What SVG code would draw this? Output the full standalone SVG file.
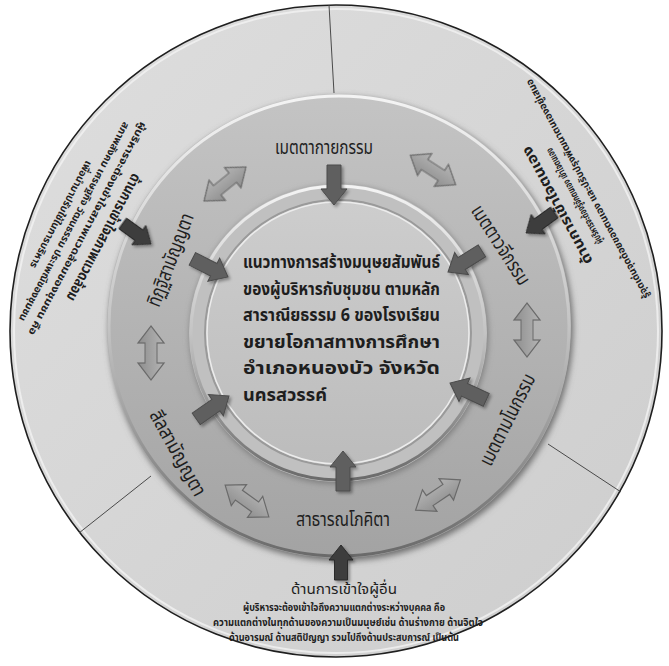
<svg xmlns="http://www.w3.org/2000/svg" width="669" height="666" viewBox="0 0 669 666">
<style>
text{font-family:"Noto Sans Thai","Noto Sans Thai UI","Tahoma","Loma","Garuda","Noto Sans",sans-serif;fill:#1e1e1e}
.lbl{font-size:20px;text-anchor:middle}
.ctr{font-size:18px;font-weight:bold}
.hd{font-size:14.5px;text-anchor:middle}
.ds{font-size:10px;font-weight:bold;text-anchor:middle}
.div{stroke:#4a4a4a;stroke-width:1;fill:none}
.ia{fill:#5f5f5f;stroke:#4b4b4b;stroke-width:1}
.oa{fill:#3c3c3c;stroke:#2a2a2a;stroke-width:1}
.da{fill:url(#gDa);stroke:#6a6a6a;stroke-width:1.2}
</style>
<defs>
<linearGradient id="gOuter" x1="0" y1="0" x2="1" y2="1"><stop offset="0" stop-color="#dedede"/><stop offset="1" stop-color="#cdcdcd"/></linearGradient>
<linearGradient id="gMid" x1="0" y1="0" x2="0" y2="1"><stop offset="0" stop-color="#c4c4c4"/><stop offset="1" stop-color="#a3a3a3"/></linearGradient>
<linearGradient id="gRim" x1="0" y1="0" x2="0" y2="1"><stop offset="0" stop-color="#f4f4f4"/><stop offset="0.5" stop-color="#c4c4c4"/><stop offset="1" stop-color="#6a6a6a"/></linearGradient>
<linearGradient id="gIn" x1="0" y1="0" x2="0" y2="1"><stop offset="0" stop-color="#cdcdcd"/><stop offset="1" stop-color="#bcbcbc"/></linearGradient>
<linearGradient id="gDa" x1="0" y1="0" x2="0" y2="1"><stop offset="0" stop-color="#b4b4b4"/><stop offset="1" stop-color="#8e8e8e"/></linearGradient>
<filter id="sh" x="-30%" y="-30%" width="160%" height="160%"><feDropShadow dx="2" dy="2" stdDeviation="1.6" flood-color="#000" flood-opacity="0.35"/></filter>
<filter id="blur" x="-10%" y="-10%" width="120%" height="120%"><feGaussianBlur stdDeviation="3"/></filter>
<path id="ia" d="M0,0 L-16,-13 L-16,-7 L-40,-7 L-40,7 L-16,7 L-16,13 Z"/>
<path id="oa" d="M0,0 L-15,-12 L-15,-6.5 L-35,-6.5 L-35,6.5 L-15,6.5 L-15,12 Z"/>
<path id="da" d="M-27,0 L-10,-13 L-10,-6 L10,-6 L10,-13 L27,0 L10,13 L10,6 L-10,6 L-10,13 Z"/>
</defs>
<rect width="669" height="666" fill="#fff"/>

<g id="outer-disc">
<circle cx="336" cy="331" r="326" fill="url(#gOuter)" stroke="#1f1f1f" stroke-width="1.6"/>
<circle cx="336" cy="331" r="322" fill="none" stroke="#f2f2f2" stroke-width="2" opacity="0.8"/>
</g>

<g id="connectors-dividers">
<line class="div" x1="329" y1="5" x2="334" y2="93"/>
<line class="div" x1="548" y1="444" x2="621" y2="492"/>
<line class="div" x1="151" y1="476" x2="79" y2="533"/>
</g>

<g id="middle-ring">
<circle cx="341" cy="329" r="232" fill="#6d6d6d" filter="url(#blur)"/>
<circle cx="339" cy="326" r="232" fill="url(#gMid)"/>
<circle cx="339" cy="326" r="230" fill="none" stroke="url(#gRim)" stroke-width="3"/>
</g>

<g id="center-disc">
<circle cx="339" cy="335" r="149" fill="#7a7a7a" filter="url(#blur)"/>
<circle cx="338" cy="333" r="149" fill="#c0c0c0"/>
<circle cx="338" cy="333" r="147" fill="none" stroke="url(#gRim)" stroke-width="3"/>
<circle cx="338" cy="333" r="133" fill="none" stroke="#9a9a9a" stroke-width="2"/>
<circle cx="338" cy="333" r="131" fill="url(#gIn)" stroke="#ececec" stroke-width="1.5"/>
<text class="ctr" x="243" y="268" textLength="197" lengthAdjust="spacingAndGlyphs">แนวทางการสร้างมนุษยสัมพันธ์</text>
<text class="ctr" x="243" y="294.5" textLength="197" lengthAdjust="spacingAndGlyphs">ของผู้บริหารกับชุมชน ตามหลัก</text>
<text class="ctr" x="243" y="321" textLength="197" lengthAdjust="spacingAndGlyphs">สาราณียธรรม 6 ของโรงเรียน</text>
<text class="ctr" x="243" y="347.5" textLength="197" lengthAdjust="spacingAndGlyphs">ขยายโอกาสทางการศึกษา</text>
<text class="ctr" x="243" y="374" textLength="197" lengthAdjust="spacingAndGlyphs">อำเภอหนองบัว จังหวัด</text>
<text class="ctr" x="243" y="400.5" textLength="84" lengthAdjust="spacingAndGlyphs">นครสวรรค์</text>
</g>

<g id="node-kaya"><text class="lbl" x="324" y="154" textLength="98" lengthAdjust="spacingAndGlyphs">เมตตากายกรรม</text></g>
<g id="node-vaci"><text class="lbl" transform="translate(500,245) rotate(57)" x="-45" y="6" textLength="91" lengthAdjust="spacingAndGlyphs" style="text-anchor:start">เมตตาวจีกรรม</text></g>
<g id="node-mano"><text class="lbl" transform="translate(508,420) rotate(-63)" x="-50" y="6" textLength="100" lengthAdjust="spacingAndGlyphs" style="text-anchor:start">เมตตามโนกรรม</text></g>
<g id="node-sadharana"><text class="lbl" x="296" y="526" textLength="94" lengthAdjust="spacingAndGlyphs" style="text-anchor:start">สาธารณโภคิตา</text></g>
<g id="node-sila"><text class="lbl" transform="translate(177,453) rotate(61)" x="-47" y="6" textLength="95" lengthAdjust="spacingAndGlyphs" style="text-anchor:start">สีลสามัญญตา</text></g>
<g id="node-ditthi"><text class="lbl" transform="translate(171,260) rotate(-69)" x="-49" y="6" textLength="98" lengthAdjust="spacingAndGlyphs" style="text-anchor:start">ทิฏฐิสามัญญตา</text></g>

<g id="sector-bottom" transform="translate(344,0)">
<text class="hd" x="-53" y="594" textLength="106" lengthAdjust="spacingAndGlyphs" style="text-anchor:start">ด้านการเข้าใจผู้อื่น</text>
<text class="ds" x="-101" y="611" textLength="202" lengthAdjust="spacingAndGlyphs" style="text-anchor:start">ผู้บริหารจะต้องเข้าใจถึงความแตกต่างระหว่างบุคคล คือ</text>
<text class="ds" x="-131" y="626" textLength="270" lengthAdjust="spacingAndGlyphs" style="text-anchor:start">ความแตกต่างในทุกด้านของความเป็นมนุษย์เช่น ด้านร่างกาย ด้านจิตใจ</text>
<text class="ds" x="-115" y="641" textLength="230" lengthAdjust="spacingAndGlyphs" style="text-anchor:start">ด้านอารมณ์ ด้านสติปัญญา รวมไปถึงด้านประสบการณ์ เป็นต้น</text>
</g>
<g id="sector-topright" transform="translate(558,205) rotate(-118.5)">
<text class="hd" x="-66" y="4" font-weight="bold" textLength="132" lengthAdjust="spacingAndGlyphs" style="text-anchor:start">ด้านการเข้าใจตนเอง</text>
<text class="ds" x="-54" y="22" textLength="108" lengthAdjust="spacingAndGlyphs" style="text-anchor:start">ผู้บริหารจะต้องรู้จักตนเอง เข้าใจตนเอง</text>
<text class="ds" x="-124" y="37" textLength="248" lengthAdjust="spacingAndGlyphs" style="text-anchor:start">รู้จุดเด่นจุดด้อยของตนเอง และปรับปรุงพัฒนาตนเองอยู่เสมอ</text>
</g>
<g id="sector-topleft" transform="translate(103,237) rotate(118)">
<text class="hd" x="-71" y="4" font-weight="bold" textLength="142" lengthAdjust="spacingAndGlyphs" style="text-anchor:start">ด้านการเข้าใจสภาพแวดล้อม</text>
<text class="ds" x="-120" y="21" textLength="240" lengthAdjust="spacingAndGlyphs" style="text-anchor:start">ผู้บริหารจะต้องเข้าใจสภาพแวดล้อมของชุมชน คือ</text>
<text class="ds" x="-112" y="36" textLength="224" lengthAdjust="spacingAndGlyphs" style="text-anchor:start">สภาพสังคม เศรษฐกิจ วัฒนธรรม ประเพณีของชุมชน</text>
<text class="ds" x="-60" y="51" textLength="120" lengthAdjust="spacingAndGlyphs" style="text-anchor:start">เพื่อนำมาปรับใช้ในการบริหาร</text>
</g>

<g id="connectors">
<g filter="url(#sh)">
<use href="#ia" class="ia" transform="translate(334,205) rotate(90)"/>
<use href="#ia" class="ia" transform="translate(448,272) rotate(148)"/>
<use href="#ia" class="ia" transform="translate(228,277) rotate(27)"/>
<use href="#ia" class="ia" transform="translate(229,396) rotate(-35)"/>
<use href="#ia" class="ia" transform="translate(450,383) rotate(205)"/>
<use href="#ia" class="ia" transform="translate(343,451) rotate(-90)"/>
<use href="#oa" class="oa" transform="translate(151,244) rotate(36)"/>
<use href="#oa" class="oa" transform="translate(526,233) rotate(144)"/>
<use href="#oa" class="oa" transform="translate(341,545) rotate(-90)"/>
</g>
<use href="#da" class="da" transform="translate(225,184) rotate(-39)"/>
<use href="#da" class="da" transform="translate(433,170) rotate(33)"/>
<use href="#da" class="da" transform="translate(527,330) rotate(90)"/>
<use href="#da" class="da" transform="translate(151,353) rotate(90)"/>
<use href="#da" class="da" transform="translate(247,501) rotate(36)"/>
<use href="#da" class="da" transform="translate(438,495) rotate(-34)"/>
</g>
</svg>
